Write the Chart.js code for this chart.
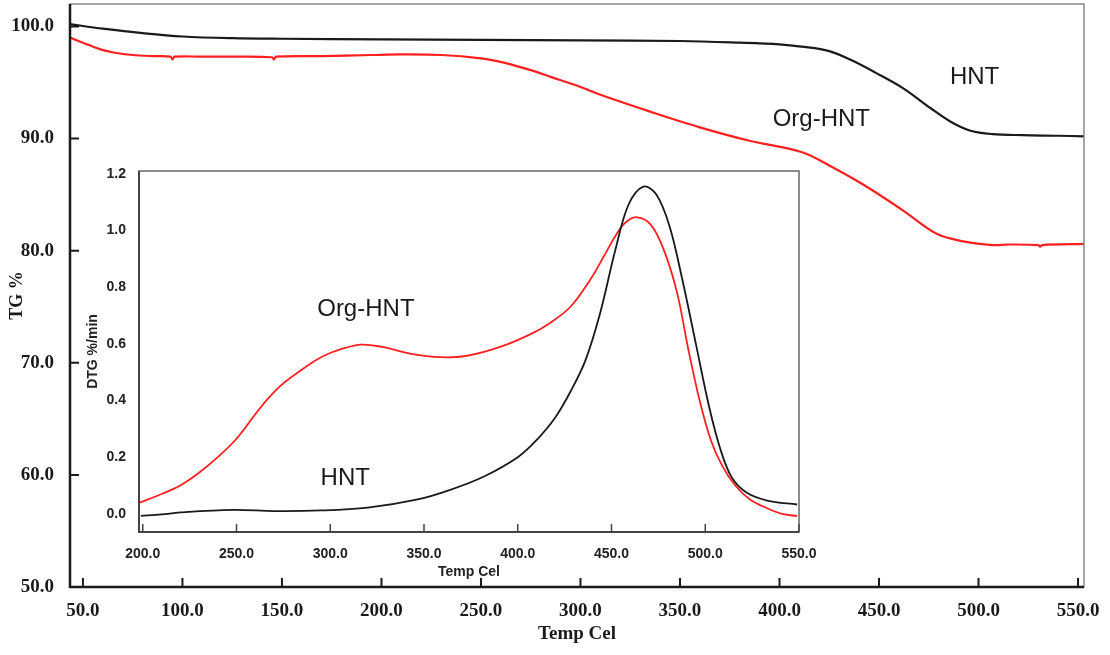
<!DOCTYPE html>
<html>
<head>
<meta charset="utf-8">
<script src="https://cdn.jsdelivr.net/npm/chart.js@4.4.0/dist/chart.umd.min.js"></script>
<style>
  body { margin: 0; background: #fff; }
  #wrap { position: relative; width: 1110px; height: 655px; }
  #mainBox { position: absolute; left: 0; top: 0; width: 1110px; height: 655px; }
  #insetBox { position: absolute; left: 80px; top: 163px; width: 750px; height: 425px; }
</style>
</head>
<body>
<div id="wrap">
  <div id="mainBox"><canvas id="mainChart"></canvas></div>
  <div id="insetBox"><canvas id="insetChart"></canvas></div>
</div>
<script>
"use strict"

// ---- main TG curves (temp in Cel, TG in %) ----
const hntTG = [
  [43.5,100.2],[60,99.8],[80,99.4],[100,99.1],[125,98.95],[150,98.9],[200,98.85],
  [250,98.8],[300,98.75],[350,98.7],[380,98.55],[400,98.4],[411,98.2],[425,97.8],
  [436,97.0],[448,95.9],[462,94.5],[476,92.7],[486,91.5],[496,90.7],[507,90.4],
  [522,90.3],[540,90.25],[553,90.2]
]
const orgTG = [
  [43.5,99.0],[50,98.55],[58,98.0],[66,97.65],[75,97.45],[85,97.35],[94,97.3],[95,97.05],
  [96,97.3],[110,97.3],[124,97.3],[145,97.25],[146,97.05],[147,97.3],[170,97.35],
  [195,97.45],[210,97.5],[230,97.45],[250,97.15],[262,96.75],[275,96.1],[285,95.5],
  [300,94.6],[310,93.9],[335,92.4],[360,91.0],[385,89.8],[411,88.8],[425,87.6],
  [442,85.9],[462,83.6],[479,81.5],[493,80.8],[507,80.5],[515,80.55],[530,80.5],
  [531,80.35],[532,80.5],[553,80.6]
]
const mainXTicks = [50,100,150,200,250,300,350,400,450,500,550]
const mainYTicks = [50,60,70,80,90,100]

// ---- inset DTG curves (%/min) ----
const hntDTG = [
  [199,-0.007],[210,-0.002],[220,0.005],[248,0.014],[270,0.01],[295,0.012],[320,0.022],
  [346,0.05],[364,0.085],[382,0.132],[400,0.2],[410,0.26],[420,0.34],[428,0.43],
  [436,0.54],[444,0.71],[452,0.93],[459,1.09],[467,1.155],[474,1.126],[481,1.014],
  [488,0.82],[495,0.6],[502,0.38],[508,0.23],[514,0.13],[522,0.075],[533,0.047],[549,0.033]
]
const orgDTG = [
  [198.5,0.04],[210,0.07],[220,0.1],[230,0.145],[240,0.2],[250,0.265],[264,0.385],
  [274,0.455],[284,0.505],[293,0.545],[302,0.573],[316,0.597],[327,0.59],[343,0.565],
  [359,0.553],[373,0.558],[391,0.59],[408,0.638],[417,0.673],[428,0.73],[439,0.83],
  [446,0.91],[452,0.98],[457,1.025],[463,1.047],[471,1.02],[478,0.93],[485,0.78],
  [491,0.58],[497,0.4],[503,0.26],[509,0.17],[516,0.1],[524,0.05],[533,0.02],[541,0.0],[549,-0.008]
]
const insetXTicks = [200,250,300,350,400,450,500,550]
const insetYTicks = [0,0.2,0.4,0.6,0.8,1.0,1.2]

// curve labels, in data units
const mainNoteText = ['HNT','Org-HNT']
const mainNoteX = [498,421]
const mainNoteY = [95.5,91.75]
const insetNoteText = ['Org-HNT','HNT']
const insetNoteX = [319,308]
const insetNoteY = [0.72,0.127]

const toPts = arr => arr.map(p => ({x: p[0], y: p[1]}))

// frame + inward tick marks
function framePlugin(o) {
  return {
    id: 'frame',
    afterDatasetsDraw(chart) {
      const {ctx, chartArea: a, scales} = chart
      ctx.save()
      ctx.strokeStyle = o.boxColor
      ctx.lineWidth = o.boxWidth
      ctx.strokeRect(a.left, a.top, a.right - a.left, a.bottom - a.top)
      ctx.strokeStyle = o.axisColor
      ctx.lineWidth = o.axisWidth
      ctx.beginPath()
      ctx.moveTo(a.left, a.top)
      ctx.lineTo(a.left, a.bottom)
      ctx.lineTo(a.right, a.bottom)
      ctx.stroke()
      ctx.lineWidth = o.tickWidth
      ctx.beginPath()
      scales.x.ticks.forEach(t => {
        const px = scales.x.getPixelForValue(t.value)
        ctx.moveTo(px, a.bottom)
        ctx.lineTo(px, a.bottom - o.tickLen)
      })
      if (o.yTicks) {
        scales.y.ticks.forEach(t => {
          const py = scales.y.getPixelForValue(t.value)
          ctx.moveTo(a.left, py)
          ctx.lineTo(a.left + o.tickLen, py)
        })
      }
      ctx.stroke()
      ctx.restore()
    }
  }
}

function notesPlugin(texts, xs, ys, font) {
  return {
    id: 'notes',
    afterDatasetsDraw(chart) {
      const {ctx, scales} = chart
      ctx.save()
      ctx.font = font
      ctx.fillStyle = '#1a1a1a'
      ctx.textAlign = 'center'
      ctx.textBaseline = 'middle'
      texts.forEach((t, i) => {
        ctx.fillText(t, scales.x.getPixelForValue(xs[i]), scales.y.getPixelForValue(ys[i]))
      })
      ctx.restore()
    }
  }
}

// fixed axis boxes, no extra label padding
const fitX = h => s => { s.height = h; s.paddingLeft = 0; s.paddingRight = 0 }
const fitY = w => s => { s.width = w; s.paddingTop = 0; s.paddingBottom = 0 }

const serifBold = {family: 'Liberation Serif', size: 19, weight: 'bold'}
const sansBold = {family: 'Liberation Sans', size: 14, weight: 'bold'}

new Chart(document.getElementById('mainChart'), {
  type: 'line',
  data: {
    datasets: [
      {data: toPts(hntTG), borderColor: '#1a1a1a', borderWidth: 2.2, pointRadius: 0, tension: 0.35},
      {data: toPts(orgTG), borderColor: '#ff1f1f', borderWidth: 2.2, pointRadius: 0, tension: 0.35}
    ]
  },
  options: {
    responsive: true,
    maintainAspectRatio: false,
    animation: false,
    layout: {padding: {top: 4, right: 26, left: 0, bottom: 0}},
    plugins: {legend: {display: false}, tooltip: {enabled: false}},
    scales: {
      x: {
        type: 'linear', min: 43.5, max: 553,
        afterBuildTicks: s => { s.ticks = mainXTicks.map(v => ({value: v})) },
        afterFit: fitX(68),
        grid: {display: false}, border: {display: false},
        ticks: {font: serifBold, color: '#1a1a1a', padding: 5, maxRotation: 0, callback: v => v.toFixed(1)},
        title: {display: true, text: 'Temp Cel', font: serifBold, color: '#1a1a1a', padding: {top: 0, bottom: 10}}
      },
      y: {
        min: 50, max: 102,
        afterBuildTicks: s => { s.ticks = mainYTicks.map(v => ({value: v})) },
        afterFit: fitY(70),
        grid: {display: false}, border: {display: false},
        ticks: {font: serifBold, color: '#1a1a1a', padding: 8, callback: v => v.toFixed(1)},
        title: {display: true, text: 'TG %', font: {family: 'Liberation Serif', size: 18, weight: 'bold'}, color: '#1a1a1a', padding: {top: 7, bottom: 0}}
      }
    }
  },
  plugins: [
    framePlugin({boxColor: '#8a8a8a', boxWidth: 1.5, axisColor: '#1a1a1a', axisWidth: 2.5, tickWidth: 2, tickLen: 9, yTicks: true}),
    notesPlugin(mainNoteText, mainNoteX, mainNoteY, '24px "Liberation Sans"')
  ]
})

new Chart(document.getElementById('insetChart'), {
  type: 'line',
  data: {
    datasets: [
      {data: toPts(hntDTG), borderColor: '#1a1a1a', borderWidth: 1.8, pointRadius: 0, tension: 0.35},
      {data: toPts(orgDTG), borderColor: '#ff1f1f', borderWidth: 1.8, pointRadius: 0, tension: 0.35}
    ]
  },
  options: {
    responsive: true,
    maintainAspectRatio: false,
    animation: false,
    layout: {padding: {top: 8, right: 31, left: 0, bottom: 0}},
    plugins: {legend: {display: false}, tooltip: {enabled: false}},
    scales: {
      x: {
        type: 'linear', min: 198, max: 550,
        afterBuildTicks: s => { s.ticks = insetXTicks.map(v => ({value: v})) },
        afterFit: fitX(56),
        grid: {display: false}, border: {display: false},
        ticks: {font: sansBold, color: '#222', padding: 6, maxRotation: 0, callback: v => v.toFixed(1)},
        title: {display: true, text: 'Temp Cel', font: sansBold, color: '#222', padding: {top: 0, bottom: 7}}
      },
      y: {
        min: -0.064, max: 1.21,
        afterBuildTicks: s => { s.ticks = insetYTicks.map(v => ({value: v})) },
        afterFit: fitY(59),
        grid: {display: false}, border: {display: false},
        ticks: {font: sansBold, color: '#222', padding: 5, callback: v => v.toFixed(1)},
        title: {display: true, text: 'DTG %/min', font: sansBold, color: '#222', padding: {top: 5, bottom: 0}}
      }
    }
  },
  plugins: [
    framePlugin({boxColor: '#666', boxWidth: 1.5, axisColor: '#444', axisWidth: 2, tickWidth: 1.5, tickLen: 8, yTicks: false}),
    notesPlugin(insetNoteText, insetNoteX, insetNoteY, '24px "Liberation Sans"')
  ]
})
</script>
</body>
</html>
